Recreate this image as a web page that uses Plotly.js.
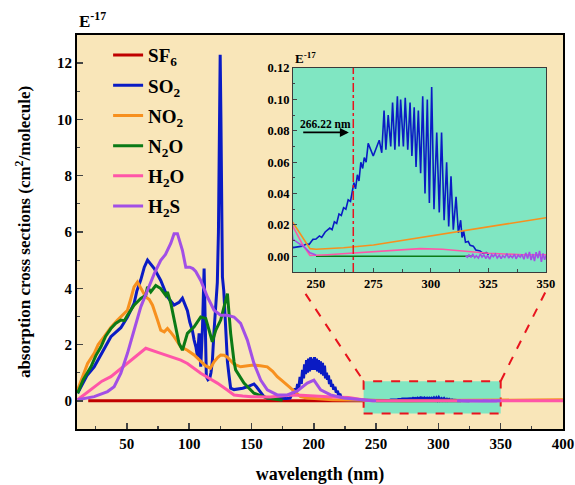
<!DOCTYPE html>
<html><head><meta charset="utf-8">
<script src="https://cdn.plot.ly/plotly-3.0.1.min.js"></script>
<style>body{margin:0;background:#fff}</style>
</head><body><div id="chart" style="width:575px;height:485px"></div>
<script>
// ---- data (absorption cross sections, units of 1e-17 cm^2/molecule) ----
const names = ['SF<sub>6</sub>', 'SO<sub>2</sub>', 'NO<sub>2</sub>', 'N<sub>2</sub>O', 'H<sub>2</sub>O', 'H<sub>2</sub>S'];
const colors = ['#C00000', '#0A1BC4', '#F7901E', '#0B7A16', '#FF55A8', '#A24FE6'];

const sf6X = [19, 50, 100, 150, 200, 240];
const sf6Y = [0, 0, 0, 0, 0, 0];

const so2X = [10.5, 18, 23.8, 29.2, 37.2, 45.2, 50.5, 55.8, 58, 61.2, 64, 66.6, 69, 72, 77.2, 82.6, 87.9, 91.9, 94.6, 96.5, 98.6, 100.5, 102.6, 104, 105.5, 106.7, 108, 109.3, 110.7, 112, 112.8, 113.8, 115.1, 116.5, 117.5, 118.6, 120, 121.3, 122.6, 123.5, 124.3, 124.9, 125.5, 126, 126.7, 127.8, 129.3, 130.7, 132, 133.3, 136, 140, 143, 146.7, 149, 152, 154, 157.4, 160, 162.7, 170, 178,
  181, 183, 184, 185, 186, 187, 188, 189, 190, 191, 191.8, 192.6, 193.4, 194.2, 195, 195.8, 196.6, 197.4, 198.2, 199, 199.8, 200.6, 201.4, 202.2, 203, 203.8, 204.6, 205.4, 206.2, 207, 207.8, 208.6, 209.4, 210.2, 211, 211.8, 212.6, 213.4, 214.2, 215, 216, 217, 218, 219, 220, 221, 222, 224, 230, 235,
  240, 242, 244, 246, 247, 248.7, 250, 251.5, 252.5, 254, 256, 257, 258, 259, 260, 261, 262, 263, 264, 265, 265.5, 266.5, 267.2, 268, 268.7, 269.5, 270.3, 271, 271.8,
  272.7, 274.9, 277.5, 278.6, 279.6, 280.4, 281.4, 282.5, 283.3, 284.3, 285.4, 286.1, 286.8, 288, 288.8, 289.9, 290.9, 291.7, 292.7, 293.5, 294.5, 295.5, 296.4, 297.4, 298.4, 299.3, 300.3, 301.3, 302.5, 303.6, 304.6, 305.7, 306.8, 307.7, 308.7, 309.7, 310.9, 311.9, 312.9, 313.5, 314.2, 315, 316.2, 317, 318.4, 319.5, 321.3, 322.5, 324.2, 325];
const so2Y = [0.27, 0.9, 1.21, 1.63, 2.28, 2.6, 2.98, 3.46, 3.9, 4.3, 4.75, 5.0, 4.85, 4.7, 4.28, 3.69, 3.4, 3.5, 3.65, 3.45, 3.2, 2.8, 2.5, 2.16, 1.9, 1.57, 2.4, 1.21, 2.6, 4.7, 2.2, 0.86, 0.75, 0.8, 1.0, 1.4, 2.5, 3.4, 4.2, 6.0, 9.5, 12.3, 10.0, 7.0, 4.4, 3.9, 2.5, 1.4, 0.9, 0.45, 0.4, 0.42, 0.45, 0.5, 0.55, 0.6, 0.5, 0.3, 0.15, 0.1, 0.08, 0.08,
  0.1, 0.3, 0.2, 0.45, 0.3, 0.6, 0.45, 0.85, 0.6, 1.1, 0.8, 1.3, 0.95, 1.45, 1.0, 1.5, 1.05, 1.55, 1.1, 1.5, 1.1, 1.55, 1.1, 1.5, 1.05, 1.45, 1.0, 1.4, 0.95, 1.35, 0.9, 1.25, 0.8, 1.0, 0.75, 0.9, 0.6, 0.75, 0.5, 0.6, 0.4, 0.5, 0.3, 0.35, 0.2, 0.25, 0.1, 0.05, 0.03, 0.02,
  0.0055, 0.006, 0.0065, 0.008, 0.0075, 0.0108, 0.011, 0.013, 0.012, 0.0155, 0.018, 0.017, 0.022, 0.021, 0.027, 0.026, 0.031, 0.03, 0.036, 0.035, 0.04, 0.047, 0.043, 0.052, 0.048, 0.06, 0.056, 0.063, 0.06,
  0.072, 0.064, 0.074, 0.066, 0.093, 0.068, 0.090, 0.070, 0.098, 0.068, 0.102, 0.070, 0.100, 0.070, 0.101, 0.068, 0.098, 0.064, 0.095, 0.057, 0.093, 0.053, 0.102, 0.040, 0.100, 0.034, 0.108, 0.030, 0.079, 0.028, 0.079, 0.023, 0.060, 0.019, 0.051, 0.017, 0.038, 0.015, 0.023, 0.012, 0.016, 0.009, 0.0095, 0.007, 0.0065, 0.004, 0.0034, 0.002, 0.0023, 0.001];

const no2X = [10.5, 15, 18.5, 23.8, 27, 31.8, 37, 42.5, 46.5, 50.5, 53, 55.8, 58.5, 61.5, 65.2, 68, 70.6, 74.6, 77.2, 80, 82.6, 85, 87.9, 93.3, 98.6, 104, 109.3, 113, 117, 120, 123, 125.3, 128, 130.7, 136, 141.3, 147, 152, 157, 162.7, 167, 170.7, 175, 181.4, 186, 189.4, 194.8, 205, 215, 228, 240, 244, 247.4, 250, 262, 275, 290, 312.6, 330, 350, 375, 400];
const no2Y = [0.39, 0.9, 1.33, 1.69, 2.0, 2.28, 2.6, 2.87, 3.05, 3.22, 3.6, 4.05, 4.22, 4.0, 3.69, 3.6, 3.4, 2.87, 2.51, 2.45, 2.57, 2.45, 2.28, 1.92, 1.8, 1.63, 1.39, 1.25, 1.16, 1.39, 1.55, 1.63, 1.62, 1.55, 1.3, 1.21, 1.25, 1.27, 1.25, 1.21, 1.05, 0.86, 0.7, 0.45, 0.25, 0.15, 0.1, 0.06, 0.04, 0.03, 0.0214, 0.012, 0.0049, 0.0045, 0.0055, 0.0072, 0.0107, 0.0159, 0.0199, 0.0246, 0.03, 0.036];

const n2oX = [10.5, 15, 21.2, 25, 29.2, 33, 37.2, 41, 45.2, 48, 50.5, 55.8, 61.2, 65.2, 66.6, 69.2, 73.2, 77.2, 81.2, 82.6, 85.3, 89.3, 91.9, 94.6, 98.6, 104, 109.3, 113.3, 118.6, 121.3, 125.3, 130.7, 133.3, 136, 137.3, 144, 152, 162.7, 175, 180, 250, 280, 318];
const n2oY = [0.27, 0.75, 1.21, 1.6, 1.92, 2.3, 2.57, 2.75, 2.87, 2.85, 3.04, 3.4, 3.64, 3.75, 4.05, 3.87, 4.1, 3.99, 3.75, 3.87, 3.46, 2.63, 2.04, 1.8, 2.4, 2.63, 2.98, 2.93, 2.1, 2.51, 2.87, 3.81, 2.4, 1.4, 1.1, 0.63, 0.27, 0.1, 0.02, null, 0, 0, 0];

const h2oX = [10.5, 17, 23.8, 30, 37.2, 44, 50.5, 58, 65.2, 77.2, 86, 93.3, 98.6, 104, 109.3, 116, 122.6, 130, 136, 143, 150, 165, 180, 190, 200, 215, 228, 236, 240, 244, 247.4, 255, 265, 275, 285, 295.2, 305, 314, 321.3, 325, 340, 400];
const h2oY = [0.04, 0.25, 0.5, 0.7, 0.86, 1.1, 1.33, 1.6, 1.87, 1.69, 1.55, 1.45, 1.33, 1.15, 0.98, 0.8, 0.63, 0.4, 0.21, 0.17, 0.15, 0.14, 0.2, 0.2, 0.17, 0.14, 0.12, 0.06, 0.019, 0.008, 0.0005, 0.001, 0.002, 0.0027, 0.004, 0.0049, 0.0045, 0.0034, 0.0023, 0.0019, 0.001, 0.001];

const h2sX = [10.5, 23.8, 34.5, 39.8, 45.2, 50.5, 55.8, 61.2, 66.6, 72, 77.2, 81, 85.3, 87.9, 90.6, 94.6, 97.3, 100.5, 103, 105.3, 109.3, 114.7, 120, 125.3, 130.7, 136, 141.3, 146.7, 152, 157.4, 162.7, 170.7, 178.8, 186.8, 194.8, 200.1, 205.5, 213.5, 224, 237.5, 240, 245.2, 247.4, 250, 252,
  315, 315.8, 316.5, 317.4, 318.2, 319, 319.7, 320.6, 321.5, 322.2, 323, 323.9, 324.6, 325.5, 326.4, 327.1, 328, 328.8, 329.7, 330.5, 331.2, 332.1, 333, 333.8, 334.5, 335.4, 336.3, 337, 337.9, 338.8, 339.5, 340.4, 341.2, 342, 342.8, 343.5, 344.3, 345, 345.7, 346.5, 347.2, 348, 348.7, 349.4, 350];
const h2sY = [0.04, 0.15, 0.33, 0.5, 0.98, 1.69, 2.51, 3.34, 3.93, 4.52, 4.99, 5.2, 5.6, 5.94, 5.94, 5.35, 4.75, 4.75, 4.7, 4.6, 4.28, 3.69, 3.22, 3.04, 3.04, 2.98, 2.75, 2.16, 1.33, 0.74, 0.39, 0.21, 0.21, 0.35, 0.63, 0.74, 0.39, 0.21, 0.1, 0.04, 0.0108, 0.0055, 0.0023, 0.0008, null,
  0.0005, -0.0006, 0.0008, -0.0004, 0.0012, -0.0009, 0.0003, -0.0012, 0.0015, -0.0005, 0.0009, -0.0014, 0.0006, -0.0018, 0.0011, -0.0003, 0.0014, -0.0011, 0.0007, -0.0015, 0.0004, -0.0008, 0.0017, -0.0012, 0.0005, -0.0009, 0.0013, -0.0016, 0.0008, -0.0006, 0.0012, -0.0019, 0.0022, -0.0014, 0.0028, -0.0024, 0.0015, -0.0031, 0.0026, -0.0012, 0.0034, -0.0036, 0.0018, -0.0022, 0.0005];

const xsAll = [sf6X, so2X, no2X, n2oX, h2oX, h2sX];
const ysAll = [sf6Y, so2Y, no2Y, n2oY, h2oY, h2sY];

const mainTicks = [50, 100, 150, 200, 250, 300, 350, 400];
const mainYTicks = [0, 2, 4, 6, 8, 10, 12];
const insetTicks = [250, 275, 300, 325, 350];
const insetYTicks = [0, 0.02, 0.04, 0.06, 0.08, 0.10, 0.12];
const insetXRange = [240, 350];
const insetYRange = [-0.01, 0.12];
const markWavelength = 266.22;

// ---- styling ----
const serif = 'Liberation Serif, Times New Roman, serif';
const wheat = '#F9E6B9';
const mint = '#80E6C2';
const red = '#E8141E';

const traces = [];
for (let i = 0; i < names.length; i++) {
  traces.push({x: xsAll[i], y: ysAll[i], name: names[i], type: 'scatter', mode: 'lines', legendgroup: 'g' + i,
    line: {color: colors[i], width: 3}, xaxis: 'x', yaxis: 'y', connectgaps: false});
}
for (let i = 0; i < names.length; i++) {
  traces.push({x: xsAll[i], y: ysAll[i], name: names[i], type: 'scatter', mode: 'lines', legendgroup: 'g' + i,
    line: {color: colors[i], width: 1.6}, xaxis: 'x2', yaxis: 'y2', showlegend: false, connectgaps: false});
}

const tickF = {family: serif, size: 15, color: '#000', weight: 'bold'};
const tickF2 = {family: serif, size: 12.5, color: '#000', weight: 'bold'};

const layout = {
  width: 575, height: 485,
  margin: {l: 77, r: 12, t: 35, b: 56},
  paper_bgcolor: '#fff', plot_bgcolor: wheat,
  showlegend: true,
  legend: {x: 0.064, y: 0.997, xanchor: 'left', yanchor: 'top', bgcolor: 'rgba(0,0,0,0)',
    font: {family: serif, size: 19, color: '#000', weight: 'bold'}, tracegroupgap: 2.5, itemwidth: 30},
  xaxis: {domain: [0, 1], range: [10, 400], tickvals: mainTicks, ticks: 'inside', ticklen: 6, tickwidth: 1.5,
    showline: true, mirror: true, linecolor: '#000', linewidth: 2, showgrid: false, zeroline: false,
    tickfont: tickF, minor: {dtick: 25, tick0: 0, ticks: 'inside', ticklen: 3, tickwidth: 1.2, showgrid: false},
    title: {text: 'wavelength (nm)', font: {family: serif, size: 18, color: '#000', weight: 'bold'}, standoff: 16}},
  yaxis: {domain: [0, 1], range: [-1, 13], tickvals: mainYTicks, ticks: 'inside', ticklen: 6, tickwidth: 1.5,
    showline: true, mirror: true, linecolor: '#000', linewidth: 2, showgrid: false, zeroline: false,
    tickfont: tickF, minor: {dtick: 1, tick0: 0, ticks: 'inside', ticklen: 3, tickwidth: 1.2, showgrid: false},
    title: {text: 'absorption cross sections (cm<sup>2</sup>/molecule)', font: {family: serif, size: 17, color: '#000', weight: 'bold'}, standoff: 22}},
  xaxis2: {domain: [0.4444, 0.965], anchor: 'y2', range: insetXRange, tickvals: insetTicks, ticks: 'inside', ticklen: 4,
    showline: true, mirror: true, linecolor: '#3a3a3a', linewidth: 1, showgrid: false, zeroline: false, tickfont: tickF2,
    minor: {dtick: 12.5, tick0: 0, ticks: 'inside', ticklen: 2.5, showgrid: false}},
  yaxis2: {domain: [0.3985, 0.916], anchor: 'x2', range: insetYRange, tickvals: insetYTicks, tickformat: '.2f', ticks: 'inside', ticklen: 4,
    showline: true, mirror: true, linecolor: '#3a3a3a', linewidth: 1, showgrid: false, zeroline: false, tickfont: tickF2,
    minor: {dtick: 0.01, tick0: 0, ticks: 'inside', ticklen: 2.5, showgrid: false}},
  shapes: [
    {type: 'rect', xref: 'x2', yref: 'y2', x0: insetXRange[0], x1: insetXRange[1], y0: insetYRange[0], y1: insetYRange[1], fillcolor: mint, line: {width: 0}, layer: 'below'},
    {type: 'rect', xref: 'x', yref: 'y', x0: 240, x1: 350, y0: -0.45, y1: 0.7, fillcolor: mint, line: {color: red, width: 2, dash: 'dash'}, layer: 'below'},
    {type: 'line', xref: 'x', yref: 'y', x0: 193.4, y0: 3.8, x1: 240, y1: 0.7, line: {color: red, width: 2, dash: 'dash'}},
    {type: 'line', xref: 'x', yref: 'y', x0: 385.7, y0: 3.85, x1: 350, y1: 0.7, line: {color: red, width: 2, dash: 'dash'}},
    {type: 'line', xref: 'x2', yref: 'y2', x0: markWavelength, x1: markWavelength, y0: insetYRange[0], y1: insetYRange[1], line: {color: red, width: 1.5, dash: 'dashdot'}}
  ],
  annotations: [
    {xref: 'paper', yref: 'paper', x: 0, y: 1, xanchor: 'left', yanchor: 'bottom', yshift: 2, showarrow: false,
      text: 'E<sup>-17</sup>', font: {family: serif, size: 17, color: '#000', weight: 'bold'}},
    {xref: 'x2 domain', yref: 'y2 domain', x: 0, y: 1, xanchor: 'left', yanchor: 'bottom', yshift: 0, showarrow: false,
      text: 'E<sup>-17</sup>', font: {family: serif, size: 13, color: '#000', weight: 'bold'}},
    {xref: 'x2', yref: 'y2', x: 264.3, y: 0.079, ax: 243.8, ay: 0.079, axref: 'x2', ayref: 'y2', text: '', showarrow: true,
      arrowhead: 2, arrowsize: 1, arrowwidth: 1.8, arrowcolor: '#000'},
    {xref: 'x2', yref: 'y2', x: 254.2, y: 0.0845, showarrow: false, text: '266.22 nm',
      font: {family: serif, size: 11.5, color: '#000', weight: 'bold'}}
  ]
};

Plotly.newPlot('chart', traces, layout, {displayModeBar: false, staticPlot: true});
</script></body></html>
